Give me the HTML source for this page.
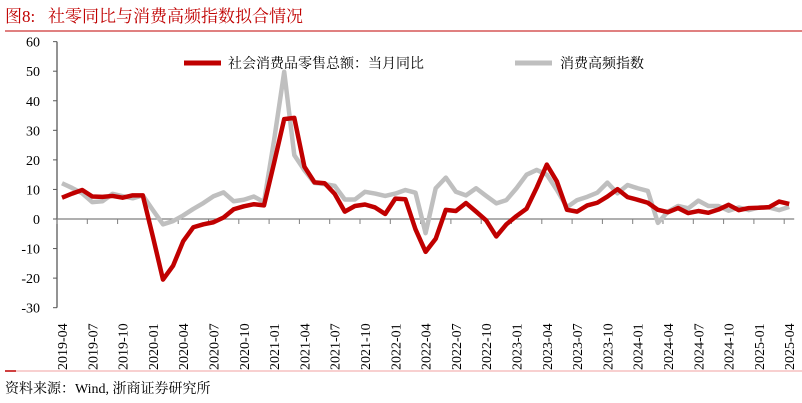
<!DOCTYPE html>
<html><head><meta charset="utf-8"><style>
body{margin:0;background:#fff;}
svg{display:block;font-family:"Liberation Serif","Noto Serif CJK SC",serif;}
</style></head><body>
<svg width="802" height="403" viewBox="0 0 802 403">
<text x="5" y="22" font-size="17" fill="#c00000">图8:&#160;&#160;&#160;社零同比与消费高频指数拟合情况</text>
<line x1="5" y1="31" x2="802" y2="31" stroke="#c00000" stroke-width="1"/>
<g id="yaxis"></g>
<g id="xaxis"></g>
<g id="series"></g>
<g>
<line x1="184" y1="63" x2="221" y2="63" stroke="#c00000" stroke-width="5"/>
<text x="228" y="68" font-size="14" fill="#000">社会消费品零售总额：当月同比</text>
<line x1="515" y1="63" x2="552" y2="63" stroke="#bfbfbf" stroke-width="5"/>
<text x="560" y="68" font-size="14" fill="#000">消费高频指数</text>
</g>
<line x1="5" y1="371" x2="802" y2="371" stroke="#f0a0a0" stroke-width="1"/>
<line x1="5" y1="371" x2="16" y2="371" stroke="#c00000" stroke-width="1.5"/>
<text x="5" y="393" font-size="14" fill="#000">资料来源：Wind, 浙商证券研究所</text>
</svg>
<script>
const yTicks=[60,50,40,30,20,10,0,-10,-20,-30];
const startYear=2019, startMonth=4, nMonths=73;
const retail=[7.2,8.6,9.8,7.6,7.5,7.8,7.2,8.0,8.0,-6,-20.5,-15.8,-7.5,-2.8,-1.8,-1.1,0.5,3.3,4.3,5.0,4.6,19,33.8,34.2,17.7,12.4,12.1,8.5,2.5,4.4,4.9,3.9,1.7,6.9,6.7,-3.5,-11.1,-6.7,3.1,2.7,5.4,2.5,-0.5,-5.9,-1.8,1,3.5,10.6,18.4,12.7,3.1,2.5,4.6,5.5,7.6,10.1,7.4,6.5,5.5,3.1,2.3,3.7,2.0,2.7,2.1,3.2,4.8,3.0,3.7,3.8,4.0,5.9,5.1];
const index=[12.1,10.5,8.7,5.7,6,8.5,7.7,7,8,3,-1.8,-0.7,1.2,3.4,5.4,7.7,9,6,6.5,7.6,5.7,26.7,49.8,21.6,16.5,12.2,11.8,11.2,6.6,6.6,9.2,8.6,7.8,8.6,9.8,8.9,-4.8,10.4,14,9.2,8,10.4,7.8,5.3,6.4,10.4,15,16.6,15,9.8,4,6.4,7.5,8.9,12.3,8.7,11.5,10.4,9.5,-1.3,2.5,4.4,3.6,6.2,4.4,4.4,2.8,3.9,3,3.9,3.9,3,4.1];
const NS='http://www.w3.org/2000/svg';
const x0=62, dx=10.1, axisX=57;
function xs(i){return x0+dx*i;}
function ys(v){return 219-v*2.956;}
function mk(tag,attrs,parent){const e=document.createElementNS(NS,tag);for(const k in attrs)e.setAttribute(k,attrs[k]);parent.appendChild(e);return e;}
const ya=document.getElementById('yaxis');
const ax=mk('line',{x1:axisX,y1:ys(60),x2:axisX,y2:ys(-30),stroke:'#595959','stroke-width':1.3},ya);


yTicks.forEach(v=>{
  const t=mk('line',{x1:axisX-4,y1:ys(v),x2:axisX,y2:ys(v),stroke:'#595959','stroke-width':1},ya);
  
  
  const l=mk('text',{x:40,y:ys(v)+5,'font-size':14,'text-anchor':'end',fill:'#000'},ya);
  l.textContent=v;
  
  
});
const xa=document.getElementById('xaxis');
const zl=mk('line',{x1:axisX,y1:ys(0),x2:xs(nMonths-1)+5,y2:ys(0),stroke:'#7f7f7f','stroke-width':1.3},xa);


for(let i=0;i<nMonths;i+=3){
  const t=mk('line',{x1:xs(i)-5,y1:ys(0),x2:xs(i)-5,y2:ys(0)+5,stroke:'#7f7f7f','stroke-width':1},xa);
  
  
  const m=startMonth-1+i, yr=startYear+Math.floor(m/12), mo=m%12+1;
  const l=mk('text',{transform:`translate(${xs(i)+5},370) rotate(-90)`,'font-size':14,fill:'#000'},xa);
  l.textContent=yr+'-'+String(mo).padStart(2,'0');
  
  
}
const sg=document.getElementById('series');
function line(data,color,name){
  const p=mk('polyline',{points:data.map((v,i)=>xs(i)+','+ys(v)).join(' '),fill:'none',stroke:color,'stroke-width':4.5,'stroke-linejoin':'round'},sg);
  
  
}
line(index,'#bfbfbf','index-line');
line(retail,'#c00000','retail-line');
</script>
</body></html>
